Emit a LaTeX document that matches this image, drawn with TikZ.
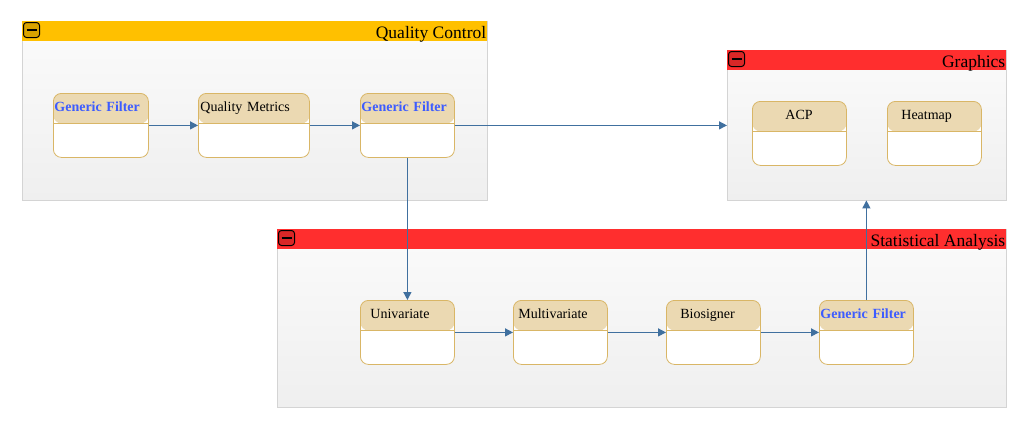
\documentclass[tikz,border=0pt]{standalone}
\usepackage{fontspec}
\setmainfont{Liberation Serif}
\usetikzlibrary{arrows.meta,positioning}
\definecolor{headorange}{HTML}{FFC000}
\definecolor{headred}{HTML}{FF2E2E}
\definecolor{laneline}{HTML}{D4D4D4}
\definecolor{lanetop}{HTML}{FBFBFB}
\definecolor{lanebot}{HTML}{EFEFEF}
\definecolor{taskhead}{HTML}{EBD9B2}
\definecolor{taskline}{HTML}{D9B666}
\definecolor{filterblue}{HTML}{3D5CFF}
\definecolor{flowblue}{HTML}{40709F}
\tikzset{
  lane/.style={draw=laneline,top color=lanetop,bottom color=lanebot,anchor=north west,inner sep=0pt},
  lanehead/.style={anchor=north west,inner sep=0pt,minimum height=20pt},
  lanetitle/.style={anchor=base east,inner sep=0pt,font=\fontsize{17.5}{19}\selectfont},
  btn/.style={draw=black,line width=1pt,rounded corners=3pt,anchor=north west,minimum width=16pt,minimum height=15pt,inner sep=0pt},
  task/.style={draw=taskline,line width=0.8pt,fill=white,rounded corners=8pt,anchor=north west,
    inner xsep=1pt,inner ysep=0pt,text height=18pt,text depth=46pt,align=left,
    font=\fontsize{14}{16}\selectfont,
    path picture={\fill[taskhead](path picture bounding box.north west)rectangle([yshift=-30pt]path picture bounding box.north east);
      \draw[taskline,line width=0.8pt]([yshift=-30pt]path picture bounding box.north west)--([yshift=-30pt]path picture bounding box.north east);}},
  filt/.style={text=filterblue,font=\fontsize{14}{16}\selectfont\bfseries},
  plain/.style={text=black},
  flow/.style={draw=flowblue,line width=1.3pt,-{Triangle[length=8pt,width=8pt]}},
}
\begin{document}
\begin{tikzpicture}[x=1pt,y=-1pt]
\useasboundingbox(0,0)rectangle(1025,429);
% lanes
\foreach \n/\x/\y/\w/\h/\c/\t in {qc/22/21/465/179/headorange/Quality Control,gr/727/50/279/150/headred/Graphics,sa/277/229/729/178/headred/Statistical Analysis}{
  \node[lane,minimum width=\w pt,minimum height=\h pt](\n)at(\x,\y){};
  \node[lanehead,fill=\c,minimum width=\w pt](\n head)at(\n.north west){};
  \node[lanetitle](\n title)at([xshift=-1pt,yshift=3pt]\n head.south east){\t};
  \node[btn,fill=\c!85!black](\n btn)at([xshift=1pt,yshift=-1pt]\n head.north west){};
  \draw[line width=2.2pt]([xshift=3.5pt]\n btn.west)--([xshift=-3.5pt]\n btn.east);
}
% tasks
\foreach \n/\x/\y/\w/\s/\p/\t in {gf1/53/93/95/filt/0/Generic Filter,qm/198/93/111/plain/1/Quality Metrics,gf2/360/93/94/filt/0/Generic Filter,
  acp/752/101/94/plain/32/ACP,heat/887/101/94/plain/13/Heatmap,
  uni/360/300/94/plain/9/Univariate,multi/513/300/94/plain/4/Multivariate,bios/666/300/94/plain/13/Biosigner,gf3/819/300/94/filt/0/Generic Filter}{
  \node[task,\s,text width=\w pt-2pt,minimum width=\w pt](\n)at(\x,\y){\hspace*{\p pt}\t};
}
% flows
\draw[flow](gf1.east)--(qm.west);
\draw[flow](qm.east)--(gf2.west);
\draw[flow](gf2.east)--(gf2.east-|gr.west);
\draw[flow](gf2.south)--(gf2.south|-uni.north);
\draw[flow](uni.east)--(multi.west);
\draw[flow](multi.east)--(bios.west);
\draw[flow](bios.east)--(gf3.west);
\draw[flow](gf3.north)--(gf3.north|-gr.south);
\end{tikzpicture}
\end{document}
